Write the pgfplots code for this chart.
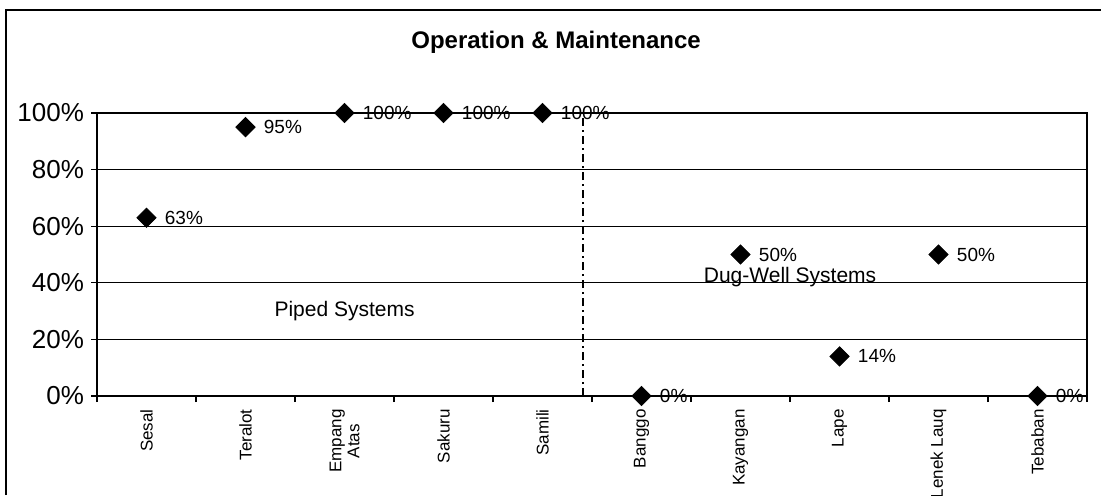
\documentclass[border=0pt]{standalone}
\usepackage{fontspec}
\setmainfont{Liberation Sans}
\usepackage{pgfplots}
\pgfplotsset{compat=1.18}

\pgfplotstableread{
x y
0 63
1 95
2 100
3 100
4 100
5 0
6 50
7 14
8 50
9 0
}\omdata

\begin{document}
\begin{tikzpicture}
\begin{axis}[
  width=495pt, height=141.5pt,
  scale only axis,
  xmin=-0.5, xmax=9.5,
  ymin=0, ymax=100,
  clip=false,
  axis line style={line width=0.8pt},
  tick align=outside,
  xtick pos=lower, ytick pos=left,
  major tick length=3pt,
  tick style={black, line width=0.6pt},
  xtick={-0.5,0.5,1.5,2.5,3.5,4.5,5.5,6.5,7.5,8.5,9.5},
  xticklabels={},
  extra x ticks={0,1,2,3,4,5,6,7,8,9},
  extra x tick labels={Sesal,Teralot,{Empang\\Atas},Sakuru,Samili,Banggo,Kayangan,Lape,Lenek Lauq,Tebaban},
  extra x tick style={major tick length=0pt},
  xticklabel style={rotate=90, anchor=east, align=center,
    font=\fontsize{8.5}{9}\selectfont, inner ysep=0pt, inner xsep=6.5pt},
  ytick={0,20,40,60,80,100},
  yticklabels={0\%,20\%,40\%,60\%,80\%,100\%},
  yticklabel style={font=\fontsize{13}{15}\selectfont},
  ymajorgrids,
  grid style={black, line width=0.6pt},
  /pgf/number format/assume math mode=true,
  title={\bfseries Operation \& Maintenance},
  title style={font=\fontsize{12}{14}\selectfont, yshift=20pt, xshift=-18pt},
]
\addplot[only marks, mark=square*, mark size=3.4pt,
  mark options={rotate=45, fill=black, draw=black},
  nodes near coords={\pgfmathprintnumber{\pgfplotspointmeta}\%},
  point meta=explicit,
  every node near coord/.append style={anchor=west, inner sep=0pt,
    xshift=9pt, font=\fontsize{9.5}{10}\selectfont}]
  table[x=x, y=y, meta=y] {\omdata};
\addplot[black, line width=0.7pt, dash pattern=on 4pt off 2pt on 1pt off 2pt]
  coordinates {(4.41,0) (4.41,100)};
\node[font=\fontsize{10.5}{12}\selectfont] at (axis cs:2,30) {Piped Systems};
\node[font=\fontsize{10.5}{12}\selectfont] at (axis cs:6.5,42) {Dug-Well Systems};
\draw[line width=0.75pt] (rel axis cs:-0.0919,-0.3498) -- (rel axis cs:-0.0919,1.364)
  -- (rel axis cs:1.0141,1.364);
\coordinate (bbsw) at (rel axis cs:-0.098,-0.3498);
\coordinate (bbne) at (rel axis cs:1.0141,1.3993);
\end{axis}
\pgfresetboundingbox
\path[use as bounding box] (bbsw) rectangle (bbne);
\end{tikzpicture}
\end{document}
